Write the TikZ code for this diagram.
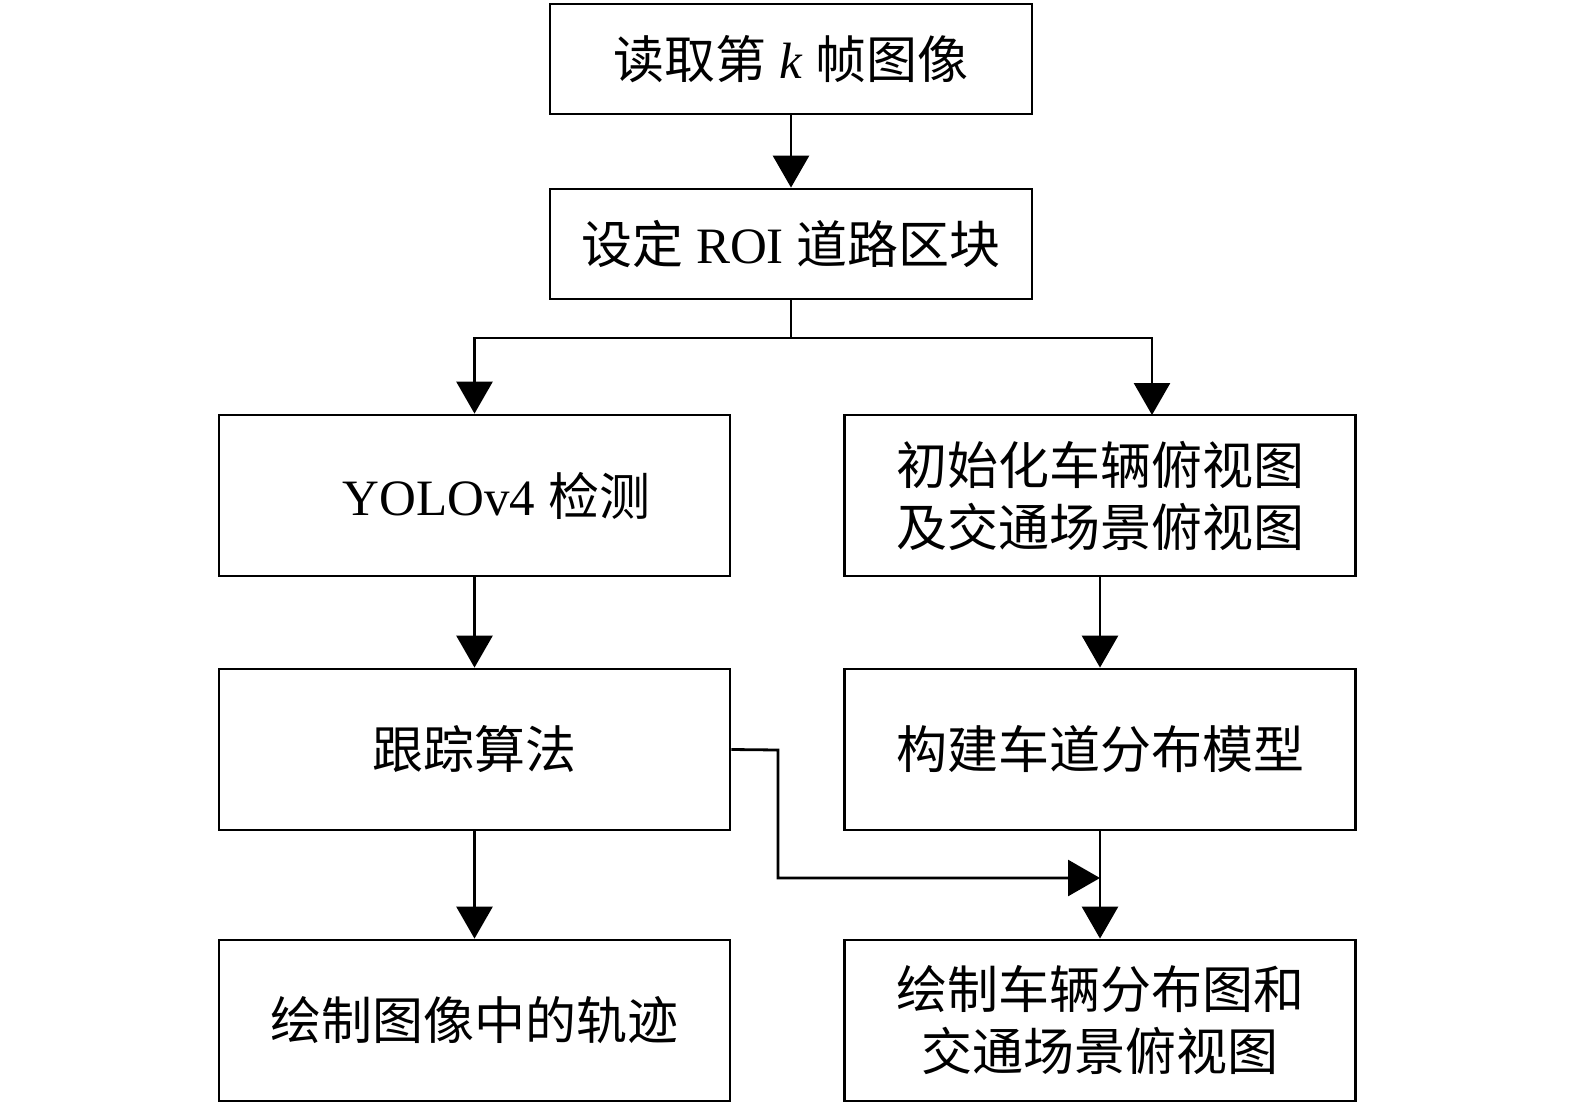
\documentclass[tikz,border=0pt]{standalone}
\usepackage{fontspec}
\setmainfont{Liberation Serif}
\newfontfamily\cjk{Noto Sans CJK SC}
\usetikzlibrary{arrows.meta}
\newcommand{\zh}[1]{{\cjk #1}}
\begin{document}
\begin{tikzpicture}[x=1pt,y=-1pt,
  box/.style={draw, line width=2.8pt, inner sep=0pt, align=center,
    font=\fontsize{51}{62}\selectfont},
  narrowbox/.style={box, minimum width=482pt, minimum height=110pt},
  widebox/.style={box, minimum width=511pt, minimum height=161pt},
  conn/.style={line width=2.8pt},
  arr/.style={conn, -{Triangle[length=32pt,width=36pt]}}]
\useasboundingbox (0,0) rectangle (1575,1106);
\node[narrowbox] (b1) at (791,59) {\zh{读取第} \textit{k} \zh{帧图像}};
\node[narrowbox] (b2) at (791,244) {\zh{设定} ROI \zh{道路区块}};
\node[widebox] (b3) at (474.5,495.5) {\hspace*{44pt}YOLOv4 \zh{检测}};
\node[widebox] (b4) at (1100,495.5) {\zh{初始化车辆俯视图}\\\zh{及交通场景俯视图}};
\node[widebox] (b5) at (474.5,749.5) {\zh{跟踪算法}};
\node[widebox] (b6) at (1100,749.5) {\zh{构建车道分布模型}};
\node[widebox] (b7) at (474.5,1020.5) {\zh{绘制图像中的轨迹}};
\node[widebox] (b8) at (1100,1020.5) {\zh{绘制车辆分布图和}\\\zh{交通场景俯视图}};
\coordinate (sp) at (791,338);
\coordinate (rin) at (1152,415);
\coordinate (mid) at (1100,878);
\coordinate (turn) at (778,750);
\draw[arr] (b1) -- (b2);
\draw[conn] (b2.south) -- (sp);
\draw[arr] (sp) -| (b3.north);
\draw[arr] (sp) -| (rin);
\draw[arr] (b3) -- (b5);
\draw[arr] (b4) -- (b6);
\draw[arr] (b5) -- (b7);
\draw[arr] (b6) -- (b8);
\draw[arr] (b5.east) -- (turn) |- (mid);
\end{tikzpicture}
\end{document}
